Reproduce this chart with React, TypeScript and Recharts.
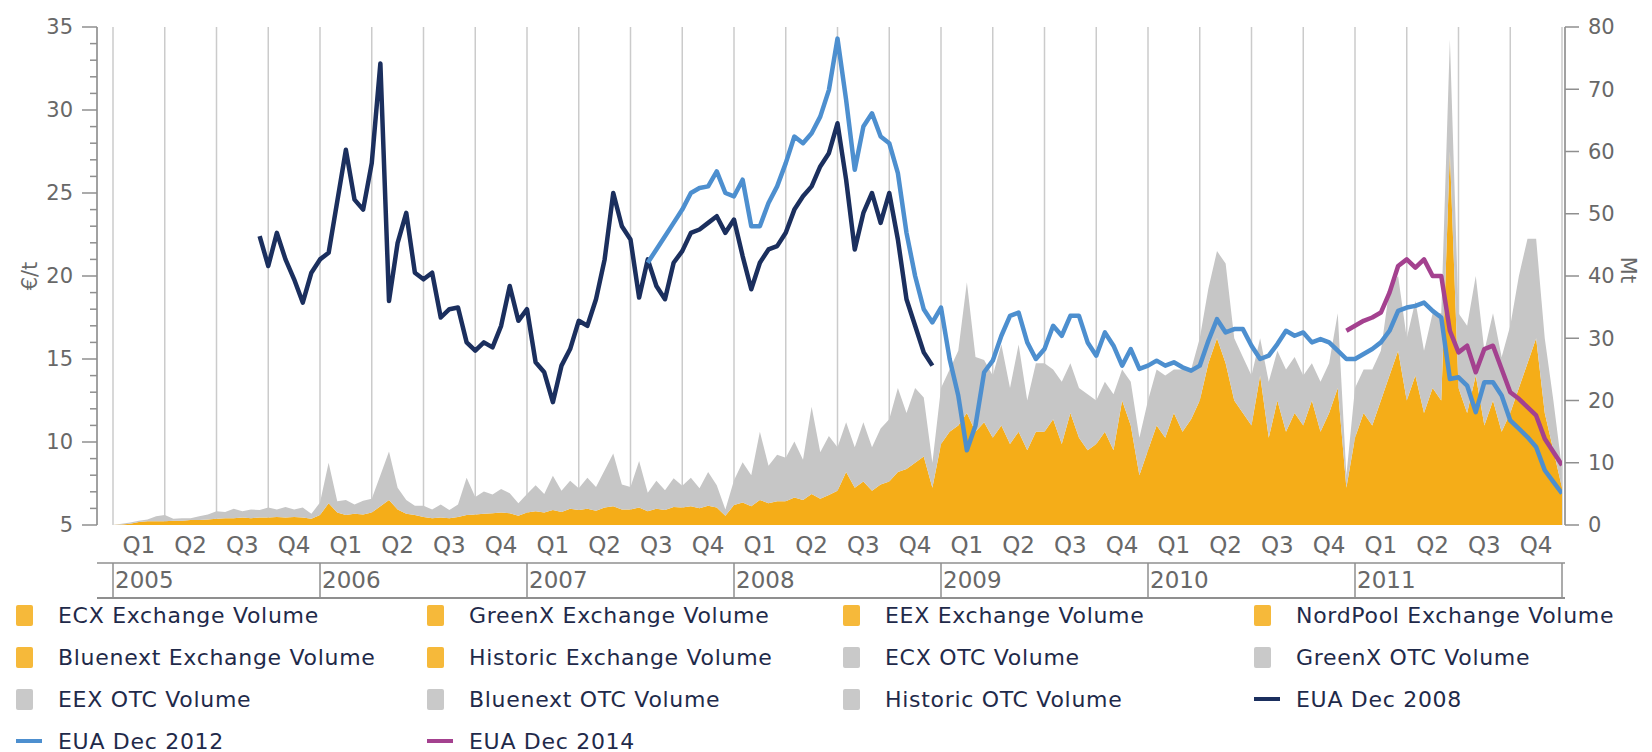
import { ComposedChart, Area, Line, XAxis, YAxis, CartesianGrid } from 'recharts';

// half-monthly samples starting 1 Jan 2005
const START_YEAR = 2005;
const STEPS_PER_YEAR = 24;

const YEARS = ['2005', '2006', '2007', '2008', '2009', '2010', '2011'];
const QUARTERS = ['Q1', 'Q2', 'Q3', 'Q4'];
const LEFT_TICKS = [5, 6, 7, 8, 9, 10, 11, 12, 13, 14, 15, 16, 17, 18, 19, 20, 21, 22, 23, 24, 25, 26, 27, 28, 29, 30, 31, 32, 33, 34, 35];
const RIGHT_TICKS = [0, 10, 20, 30, 40, 50, 60, 70, 80];

// Mt, exchange-traded volume (all exchanges)
const EXCHANGE_VOLUME = [
  0, 0.1, 0.2, 0.5, 0.6, 0.6, 0.6, 0.7, 0.7, 0.8, 0.8, 0.9, 1.0, 1.1, 1.1, 1.2, 1.1, 1.2, 1.2, 1.3, 1.2, 1.3, 1.2, 1.0,
  1.6, 3.5, 2.0, 1.6, 1.8, 1.7, 2.0, 3.0, 4.0, 2.5, 1.8, 1.6, 1.3, 1.1, 1.2, 1.1, 1.3, 1.6, 1.7, 1.8, 1.9, 2.0, 1.9, 1.5,
  2.0, 2.2, 2.0, 2.4, 2.1, 2.6, 2.4, 2.6, 2.3, 2.8, 3.0, 2.5, 2.5, 2.8, 2.2, 2.6, 2.4, 2.9, 2.8, 3.0, 2.7, 3.1, 2.8, 1.5,
  3.2, 3.6, 3.0, 4.0, 3.5, 3.8, 3.8, 4.4, 4.0, 5.0, 4.2, 4.8, 5.5, 8.5, 6.0, 7.0, 5.5, 6.5, 7.0, 8.5, 9.0, 10.0, 11.0, 6.0,
  13, 15, 16, 18, 15, 16.5, 14, 16, 13, 15, 12, 15, 15, 17, 13, 18, 14, 12, 13, 15, 12, 20, 16, 8,
  12, 16, 14, 18, 15, 17, 20, 26, 30, 26, 20, 18, 16, 24, 14, 20, 15, 18, 16, 20, 15, 18, 22, 6,
  14, 18, 16, 20, 24, 28, 20, 24, 18, 22, 20, 60, 22, 18, 24, 16, 20, 15, 18, 22, 26, 30, 18, 12,
  6,
];

// Mt, OTC volume (all registries), stacked on top of exchange volume
const OTC_VOLUME = [
  0, 0.1, 0.2, 0.2, 0.3, 0.8, 1.0, 0.3, 0.4, 0.3, 0.6, 0.8, 1.2, 1.0, 1.5, 1.0, 1.4, 1.2, 1.6, 1.2, 1.7, 1.2, 1.6, 0.8,
  2.0, 6.5, 1.8, 2.4, 1.5, 2.2, 2.2, 5.0, 7.8, 3.5, 2.2, 1.5, 1.8, 1.4, 2.1, 1.3, 2.0, 6.0, 2.8, 3.6, 3.0, 3.8, 3.2, 2.0,
  3.0, 4.2, 3.0, 5.5, 3.4, 4.5, 3.5, 5.0, 3.8, 6.0, 8.5, 4.0, 3.6, 7.5, 3.0, 4.5, 3.2, 4.6, 3.5, 4.6, 3.2, 5.4, 3.6, 1.0,
  4.0, 6.5, 5.0, 11.0, 6.0, 7.5, 7.0, 9.0, 6.5, 14.0, 7.5, 9.5, 7.0, 8.0, 6.5, 9.5, 7.0, 9.0, 10.0, 13.5, 9.0, 12.0, 9.5, 4.0,
  9, 10, 12, 21, 12, 10, 10, 13, 9, 14, 8, 11, 11, 8, 10, 8, 8, 9, 7, 8, 9, 5, 7, 6,
  8, 9, 10, 7, 10, 8, 10, 12, 14, 16, 10, 9, 8, 6, 9, 8, 10, 9, 8, 6, 8, 8, 12, 2,
  8, 7, 9, 8, 14, 12, 10, 12, 10, 12, 14, 18, 12, 14, 16, 12, 14, 12, 14, 18, 20, 16, 12, 8,
  3,
];

// €/t, first sample index of each contract
const DEC08_START = 17;
const EUA_DEC_2008 = [
  22.4, 20.6, 22.6, 21.0, 19.8, 18.4, 20.2, 21.0,
  21.4, 24.5, 27.6, 24.6, 24.0, 26.8, 32.8, 18.5,
  22.0, 23.8, 20.2, 19.8, 20.2, 17.5, 18.0, 18.1,
  16.0, 15.5, 16.0, 15.7, 17.0, 19.4, 17.3, 18.0,
  14.8, 14.2, 12.4, 14.6, 15.6, 17.3, 17.0, 18.6,
  21.0, 25.0, 23.0, 22.2, 18.7, 21.0, 19.4, 18.6,
  20.8, 21.5, 22.6, 22.8, 23.2, 23.6, 22.6, 23.4,
  21.2, 19.2, 20.8, 21.6, 21.8, 22.6, 24.0, 24.8,
  25.4, 26.6, 27.4, 29.2, 25.8, 21.6, 23.8, 25.0,
  23.2, 25.0, 22.2, 18.6, 17.0, 15.4, 14.6,
];

const DEC12_START = 62;
const EUA_DEC_2012 = [
  20.8, 21.6, 22.4, 23.2, 24.0, 25.0, 25.3, 25.4,
  26.3, 25.0, 24.8, 25.8, 23.0, 23.0, 24.4, 25.4,
  26.8, 28.4, 28.0, 28.6, 29.6, 31.2, 34.3, 30.6,
  26.4, 29.0, 29.8, 28.4, 28.0, 26.2, 22.6, 20.0,
  18.0, 17.2, 18.1, 15.0, 12.8, 9.5, 11.0, 14.2,
  14.9, 16.4, 17.6, 17.8, 16.0, 15.0, 15.6, 17.0,
  16.4, 17.6, 17.6, 16.0, 15.2, 16.6, 15.8, 14.6,
  15.6, 14.4, 14.6, 14.9, 14.6, 14.8, 14.5, 14.3,
  14.6, 16.1, 17.4, 16.6, 16.8, 16.8, 15.8, 15.0,
  15.2, 15.9, 16.7, 16.4, 16.6, 16.0, 16.2, 16.0,
  15.5, 15.0, 15.0, 15.3, 15.6, 16.0, 16.7, 17.9,
  18.1, 18.2, 18.4, 17.9, 17.5, 13.8, 13.9, 13.4,
  11.8, 13.6, 13.6, 12.8, 11.3, 10.8, 10.3, 9.7,
  8.3, 7.6, 6.9,
];

const DEC14_START = 143;
const EUA_DEC_2014 = [
  16.7, 17.0, 17.3, 17.5, 17.8, 19.0, 20.6, 21.0,
  20.5, 21.0, 20.0, 20.0, 16.7, 15.4, 15.8, 14.2,
  15.6, 15.8, 14.4, 13.0, 12.6, 12.1, 11.6, 10.2,
  9.4, 8.6,
];

const LEGEND_NAMES = [
  'ECX Exchange Volume', 'GreenX Exchange Volume', 'EEX Exchange Volume', 'NordPool Exchange Volume',
  'Bluenext Exchange Volume', 'Historic Exchange Volume', 'ECX OTC Volume', 'GreenX OTC Volume',
  'EEX OTC Volume', 'Bluenext OTC Volume', 'Historic OTC Volume', 'EUA Dec 2008',
  'EUA Dec 2012', 'EUA Dec 2014',
];

const ORANGE = '#f5ad18';
const GREY = '#c6c6c6';
const NAVY = '#1b2f5e';
const BLUE = '#4d8fcf';
const PURPLE = '#a4418f';
const AXIS_COLOR = '#8f8f8f';
const GRID_COLOR = '#cbcbcb';
const TICK_COLOR = '#686868';
const LEGEND_TEXT = '#1f2a4a';
const FONT = '"DejaVu Sans", Verdana, sans-serif';

const LINE_COLORS: Record<string, string> = {
  'EUA Dec 2008': NAVY,
  'EUA Dec 2012': BLUE,
  'EUA Dec 2014': PURPLE,
};

const DOMAIN: [number, number] = [START_YEAR, START_YEAR + YEARS.length];
const PAD = { left: 16, right: 3 };

const quarterBounds = Array.from({ length: YEARS.length * 4 + 1 }, (_, k) => START_YEAR + k / 4);
const quarterMids = Array.from({ length: YEARS.length * 4 }, (_, k) => START_YEAR + k / 4 + 1 / 8);
const yearBounds = Array.from({ length: YEARS.length + 1 }, (_, k) => START_YEAR + k);

const pick = (arr: number[], start: number, i: number) =>
  i >= start && i < start + arr.length ? arr[i - start] : null;

const rows = EXCHANGE_VOLUME.map((ex, i) => ({
  t: START_YEAR + i / STEPS_PER_YEAR,
  exchange: ex,
  otc: OTC_VOLUME[i],
  dec08: pick(EUA_DEC_2008, DEC08_START, i),
  dec12: pick(EUA_DEC_2012, DEC12_START, i),
  dec14: pick(EUA_DEC_2014, DEC14_START, i),
}));

const EmptyTick = () => <g />;

function LeftTick({ x, y, payload }: any) {
  const major = payload.value % 5 === 0;
  return (
    <g>
      <line x1={x - (major ? 15 : 7)} x2={x} y1={y} y2={y} stroke={AXIS_COLOR} strokeWidth={1.5} />
      {major && (
        <text x={x - 24} y={y} textAnchor="end" dominantBaseline="central" fill={TICK_COLOR} fontSize={21} fontFamily={FONT}>
          {payload.value}
        </text>
      )}
    </g>
  );
}

function QuarterTick({ x, y, payload }: any) {
  const k = Math.round((payload.value - START_YEAR) * 4 - 0.5);
  return (
    <text x={x} y={y + 20} textAnchor="middle" dominantBaseline="central" fill={TICK_COLOR} fontSize={23} fontFamily={FONT}>
      {QUARTERS[k % 4]}
    </text>
  );
}

function YearTick({ x, y, payload }: any) {
  const label = YEARS[Math.round(payload.value - START_YEAR)];
  if (!label) return <g />;
  return (
    <text x={x + 2} y={y - 18} textAnchor="start" dominantBaseline="central" fill={TICK_COLOR} fontSize={23} fontFamily={FONT}>
      {label}
    </text>
  );
}

const axisLine = { stroke: AXIS_COLOR, strokeWidth: 1.5 };

export default function App() {
  return (
    <div style={{ position: 'absolute', left: 0, top: 0, width: 1652, height: 752, background: '#fff', fontFamily: FONT }}>
      <ComposedChart width={1652} height={752} data={rows} margin={{ top: 27, right: 0, bottom: 154, left: 0 }}>
        <CartesianGrid xAxisId="a_q" yAxisId="left" horizontal={false} stroke={GRID_COLOR} strokeWidth={1.5} />

        <XAxis xAxisId="top" orientation="top" type="number" dataKey="t" domain={DOMAIN} allowDataOverflow
          padding={PAD} height={0} tick={false} tickLine={false} axisLine={{ stroke: AXIS_COLOR, strokeWidth: 2 }} />
        <XAxis xAxisId="a_q" type="number" dataKey="t" domain={DOMAIN} allowDataOverflow padding={PAD}
          ticks={quarterBounds} interval={0} height={0} tick={EmptyTick} tickSize={38} tickLine={axisLine} axisLine={axisLine} />
        <XAxis xAxisId="b_ql" type="number" dataKey="t" domain={DOMAIN} allowDataOverflow padding={PAD}
          ticks={quarterMids} interval={0} height={38} tick={QuarterTick} tickSize={0} tickMargin={0} tickLine={false} axisLine={false} />
        <XAxis xAxisId="c_yr" type="number" dataKey="t" domain={DOMAIN} allowDataOverflow padding={PAD}
          ticks={yearBounds} interval={0} height={35} tick={YearTick} tickSize={35} tickMargin={0} tickLine={axisLine} axisLine={axisLine} />

        <YAxis yAxisId="left" type="number" domain={[5, 35]} allowDataOverflow ticks={LEFT_TICKS} interval={0}
          width={97} tick={LeftTick} tickSize={0} tickMargin={0} tickLine={false} axisLine={axisLine}
          label={{
            content: () => (
              <text transform="translate(30,276) rotate(-90)" textAnchor="middle" dominantBaseline="central"
                fill={TICK_COLOR} fontSize={21} fontFamily={FONT}>€/t</text>
            ),
          }} />
        <YAxis yAxisId="right" orientation="right" type="number" domain={[0, 80]} allowDataOverflow ticks={RIGHT_TICKS}
          interval={0} width={87} tickSize={14} tickMargin={9} tickLine={axisLine} axisLine={axisLine}
          tick={{ fill: TICK_COLOR, fontSize: 21, fontFamily: FONT }}
          label={{
            content: () => (
              <text transform="translate(1628,270) rotate(90)" textAnchor="middle" dominantBaseline="central"
                fill={TICK_COLOR} fontSize={21} fontFamily={FONT}>Mt</text>
            ),
          }} />

        <Area xAxisId="a_q" yAxisId="right" dataKey="exchange" stackId="vol" type="linear" stroke="none"
          fill={ORANGE} fillOpacity={1} isAnimationActive={false} />
        <Area xAxisId="a_q" yAxisId="right" dataKey="otc" stackId="vol" type="linear" stroke="none"
          fill={GREY} fillOpacity={1} isAnimationActive={false} />

        <Line xAxisId="a_q" yAxisId="left" dataKey="dec08" type="linear" stroke={NAVY} strokeWidth={4.5}
          dot={false} strokeLinejoin="round" isAnimationActive={false} />
        <Line xAxisId="a_q" yAxisId="left" dataKey="dec12" type="linear" stroke={BLUE} strokeWidth={4.5}
          dot={false} strokeLinejoin="round" isAnimationActive={false} />
        <Line xAxisId="a_q" yAxisId="left" dataKey="dec14" type="linear" stroke={PURPLE} strokeWidth={4.5}
          dot={false} strokeLinejoin="round" isAnimationActive={false} />
      </ComposedChart>

      {/* bottom rule closing the year row */}
      <div style={{ position: 'absolute', left: 97, top: 597, width: 1468, height: 1.5, background: AXIS_COLOR }} />

      <div style={{ position: 'absolute', left: 0, top: 600, width: 1652, height: 152 }}>
        {LEGEND_NAMES.map((name, idx) => {
          const col = idx % 4;
          const row = Math.floor(idx / 4);
          const left = [16, 427, 843, 1254][col];
          const lineColor = LINE_COLORS[name];
          const isOtc = name.includes('OTC');
          return (
            <div key={name} style={{ position: 'absolute', left, top: 2 + row * 42, height: 26, display: 'flex', alignItems: 'center' }}>
              {lineColor ? (
                <div style={{ width: 26, height: 4, background: lineColor }} />
              ) : (
                <div style={{ width: 17, height: 21, background: isOtc ? '#c9c9c9' : '#f6b93a', borderRadius: 2 }} />
              )}
              <span style={{ marginLeft: lineColor ? 16 : 25, fontSize: 22, letterSpacing: 0.7, color: LEGEND_TEXT, whiteSpace: 'nowrap' }}>
                {name}
              </span>
            </div>
          );
        })}
      </div>
    </div>
  );
}
